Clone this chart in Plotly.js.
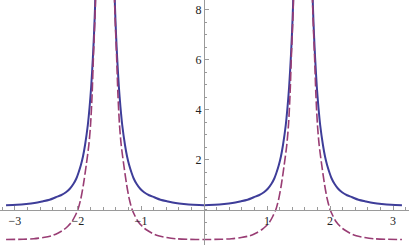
<!DOCTYPE html>
<html>
<head>
<meta charset="utf-8">
<script src="https://cdn.plot.ly/plotly-3.0.1.min.js"></script>
<style>html,body{margin:0;padding:0;background:#fff;}#chart{width:409px;height:245px;}</style>
</head>
<body>
<div id="chart"></div>
<script>
// Solid curve, three branches
var solidLeftX  = [-3.142,-2.971,-2.821,-2.691,-2.571,-2.451,-2.351,-2.271,-2.191,-2.126,-2.071,-2.026,-1.991,-1.954,-1.921,-1.888,-1.844,-1.816,-1.791,-1.764,-1.746,-1.728,-1.716];
var solidLeftY  = [0.175,0.19,0.22,0.26,0.32,0.39,0.49,0.57,0.69,0.84,1.03,1.24,1.48,1.78,2.12,2.58,3.38,4.1,4.9,6.06,7.0,8.2,9.6];
var solidMidX   = [-1.426,-1.414,-1.396,-1.378,-1.351,-1.326,-1.298,-1.254,-1.221,-1.188,-1.151,-1.116,-1.071,-1.016,-0.951,-0.871,-0.791,-0.691,-0.571,-0.451,-0.321,-0.171,0,0.171,0.321,0.451,0.571,0.691,0.791,0.871,0.951,1.016,1.071,1.116,1.151,1.188,1.221,1.254,1.298,1.326,1.351,1.378,1.396,1.414,1.426];
var solidMidY   = [9.6,8.2,7.0,6.06,4.9,4.1,3.38,2.58,2.12,1.78,1.48,1.24,1.03,0.84,0.69,0.57,0.49,0.39,0.32,0.26,0.22,0.19,0.175,0.19,0.22,0.26,0.32,0.39,0.49,0.57,0.69,0.84,1.03,1.24,1.48,1.78,2.12,2.58,3.38,4.1,4.9,6.06,7.0,8.2,9.6];
var solidRightX = [1.716,1.728,1.746,1.764,1.791,1.816,1.844,1.888,1.921,1.954,1.991,2.026,2.071,2.126,2.191,2.271,2.351,2.451,2.571,2.691,2.821,2.971,3.142];
var solidRightY = [9.6,8.2,7.0,6.06,4.9,4.1,3.38,2.58,2.12,1.78,1.48,1.24,1.03,0.84,0.69,0.57,0.49,0.39,0.32,0.26,0.22,0.19,0.175];

// Dashed curve, three branches
var dashLeftX  = [-3.142,-2.871,-2.701,-2.551,-2.416,-2.321,-2.221,-2.161,-2.101,-2.051,-2.001,-1.956,-1.915,-1.869,-1.828,-1.801,-1.776,-1.756,-1.741,-1.724,-1.709];
var dashLeftY  = [-1.2,-1.19,-1.17,-1.12,-1.05,-0.95,-0.8,-0.67,-0.5,-0.28,0.0,0.42,0.98,1.78,2.58,3.38,4.6,6.06,7.0,8.2,9.6];
var dashMidX   = [-1.433,-1.418,-1.401,-1.386,-1.366,-1.341,-1.314,-1.273,-1.227,-1.186,-1.141,-1.091,-1.041,-0.981,-0.921,-0.821,-0.726,-0.591,-0.441,-0.271,0,0.271,0.441,0.591,0.726,0.821,0.921,0.981,1.041,1.091,1.141,1.186,1.227,1.273,1.314,1.341,1.366,1.386,1.401,1.418,1.433];
var dashMidY   = [9.6,8.2,7.0,6.06,4.6,3.38,2.58,1.78,0.98,0.42,0.0,-0.28,-0.5,-0.67,-0.8,-0.95,-1.05,-1.12,-1.17,-1.19,-1.2,-1.19,-1.17,-1.12,-1.05,-0.95,-0.8,-0.67,-0.5,-0.28,0.0,0.42,0.98,1.78,2.58,3.38,4.6,6.06,7.0,8.2,9.6];
var dashRightX = [1.709,1.724,1.741,1.756,1.776,1.801,1.828,1.869,1.915,1.956,2.001,2.051,2.101,2.161,2.221,2.321,2.416,2.551,2.701,2.871,3.142];
var dashRightY = [9.6,8.2,7.0,6.06,4.6,3.38,2.58,1.78,0.98,0.42,0.0,-0.28,-0.5,-0.67,-0.8,-0.95,-1.05,-1.12,-1.17,-1.19,-1.2];

// Tick labels
var xTickVals = [-3,-2,-1,1,2,3];
var xTickText = ["\u22123","\u22122","\u22121","1","2","3"];
var yTickVals = [2,4,6,8];
var yTickText = ["2","4","6","8"];

var xRange = [-3.238, 3.254];
var yRange = [-1.42, 8.38];

var solidColor = "rgb(62,61,153)";
var dashColor = "rgb(153,61,116)";

function branchTraces(xs, ys, color, dash, width) {
  return xs.map(function (x, i) {
    return {
      x: x, y: ys[i], type: "scatter", mode: "lines", hoverinfo: "skip",
      showlegend: false,
      line: {color: color, width: width, dash: dash, shape: "spline", smoothing: 0.8}
    };
  });
}

var data = []
  .concat(branchTraces([solidLeftX, solidMidX, solidRightX], [solidLeftY, solidMidY, solidRightY], solidColor, "solid", 2))
  .concat(branchTraces([dashLeftX, dashMidX, dashRightX], [dashLeftY, dashMidY, dashRightY], dashColor, "9px,3px", 1.6));

var axisColor = "#9a9a9a";
var tickFont = {family: "Liberation Serif, Times New Roman, serif", size: 12, color: "#222"};

var layout = {
  width: 409, height: 245,
  margin: {l: 0, r: 0, t: 0, b: 0},
  paper_bgcolor: "#fff", plot_bgcolor: "#fff",
  showlegend: false,
  xaxis: {
    range: xRange, showgrid: false, zeroline: false,
    showline: true, linecolor: axisColor, linewidth: 1,
    anchor: "free", position: (0 - yRange[0]) / (yRange[1] - yRange[0]),
    tickmode: "array", tickvals: xTickVals, ticktext: xTickText,
    ticks: "inside", ticklen: 4, tickcolor: axisColor, tickwidth: 1,
    minor: {tickmode: "linear", tick0: 0, dtick: 0.2, ticks: "inside", ticklen: 2.5, tickcolor: axisColor, tickwidth: 1, showgrid: false},
    tickfont: tickFont, automargin: false, fixedrange: true
  },
  yaxis: {
    range: yRange, showgrid: false, zeroline: false,
    showline: true, linecolor: axisColor, linewidth: 1,
    anchor: "free", position: (0 - xRange[0]) / (xRange[1] - xRange[0]),
    tickmode: "array", tickvals: yTickVals, ticktext: yTickText,
    ticks: "inside", ticklen: 4, tickcolor: axisColor, tickwidth: 1,
    minor: {tickmode: "linear", tick0: 0, dtick: 0.5, ticks: "inside", ticklen: 2.5, tickcolor: axisColor, tickwidth: 1, showgrid: false},
    tickfont: tickFont, automargin: false, fixedrange: true
  }
};

Plotly.newPlot("chart", data, layout, {staticPlot: true, displayModeBar: false});
</script>
</body>
</html>
